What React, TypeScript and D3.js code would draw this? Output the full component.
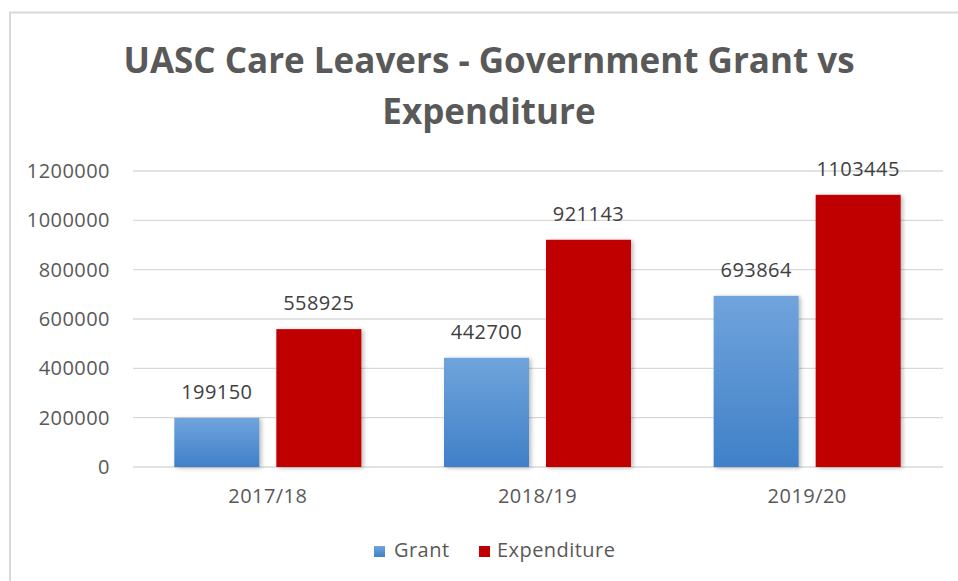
import React from "react";
import * as d3 from "d3";

const categories = ["2017/18", "2018/19", "2019/20"];
const seriesNames = ["Grant", "Expenditure"];
const grantValues = [199150, 442700, 693864];
const expenditureValues = [558925, 921143, 1103445];
const yTicks = [0, 200000, 400000, 600000, 800000, 1000000, 1200000];
const titleLines = ["UASC Care Leavers - Government Grant vs", "Expenditure"];

const W = 958;
const H = 581;
const FONT = "'Open Sans', 'Noto Sans', sans-serif";
const FS = 20;
const LS = 0.45;

export default function App() {
  const x0 = d3.scaleBand<string>().domain(categories).range([133, 942]).padding(0);
  const x1 = d3
    .scaleBand<string>()
    .domain(seriesNames)
    .range([0, x0.bandwidth()])
    .paddingInner(0.1667)
    .paddingOuter(0.405);
  const y = d3.scaleLinear().domain([0, 1200000]).range([467, 171]);

  const data = seriesNames.map((s, si) => ({
    name: s,
    values: si === 0 ? grantValues : expenditureValues,
  }));

  return (
    <svg
      width={W}
      height={H}
      style={{ position: "absolute", left: 0, top: 0, background: "#fff" }}
    >
      <defs>
        <linearGradient id="grantGrad" x1="0" y1="0" x2="0" y2="1">
          <stop offset="0%" stopColor="#70a4dc" />
          <stop offset="100%" stopColor="#4080c8" />
        </linearGradient>
        <filter id="shadow" x="-20%" y="-20%" width="140%" height="140%">
          <feDropShadow dx="2" dy="1" stdDeviation="2" floodColor="#000" floodOpacity="0.28" />
        </filter>
      </defs>
      <rect x={0} y={0} width={W} height={H} fill="#fff" />
      {/* chart frame */}
      <rect x={10} y={12.5} width={W + 20} height={H + 20} fill="#fff" stroke="#d9d9d9" strokeWidth={2} />

      {/* title */}
      {titleLines.map((t, i) => (
        <text
          key={i}
          x={489}
          y={73 + i * 51}
          textAnchor="middle"
          fontFamily={FONT}
          fontWeight={700}
          fontSize={35}
          fill="#595959"
        >
          {t}
        </text>
      ))}

      {/* gridlines */}
      {yTicks.map((t) => (
        <line key={t} x1={133} x2={943} y1={y(t)} y2={y(t)} stroke="#d9d9d9" strokeWidth={1.3} />
      ))}
      {/* y tick labels */}
      {yTicks.map((t) => (
        <text
          key={"l" + t}
          x={110}
          y={y(t) + 7}
          textAnchor="end"
          fontFamily={FONT}
          fontSize={FS}
          letterSpacing={LS}
          fill="#595959"
        >
          {t}
        </text>
      ))}

      {/* bars */}
      {categories.map((c, ci) => (
        <g key={c} transform={`translate(${x0(c)},0)`}>
          {data.map((s) => {
            const v = s.values[ci];
            const bx = x1(s.name)!;
            return (
              <g key={s.name}>
                <rect
                  x={bx}
                  y={y(v)}
                  width={x1.bandwidth()}
                  height={y(0) - y(v)}
                  fill={s.name === "Grant" ? "url(#grantGrad)" : "#c00000"}
                  filter="url(#shadow)"
                />
                <text
                  x={bx + x1.bandwidth() / 2}
                  y={y(v) - 19}
                  textAnchor="middle"
                  fontFamily={FONT}
                  fontSize={FS}
                  letterSpacing={LS}
                  fill="#404040"
                >
                  {v}
                </text>
              </g>
            );
          })}
        </g>
      ))}

      {/* x labels */}
      {categories.map((c) => (
        <text
          key={"x" + c}
          x={x0(c)! + x0.bandwidth() / 2}
          y={503}
          textAnchor="middle"
          fontFamily={FONT}
          fontSize={FS}
          letterSpacing={LS}
          fill="#595959"
        >
          {c}
        </text>
      ))}

      {/* legend */}
      <g>
        <rect x={374} y={546} width={11} height={11} fill="url(#grantGrad)" />
        <text x={394} y={557} fontFamily={FONT} fontSize={FS} letterSpacing={LS} fill="#595959">
          Grant
        </text>
        <rect x={479} y={546} width={11} height={11} fill="#c00000" />
        <text x={497} y={557} fontFamily={FONT} fontSize={FS} letterSpacing={LS} fill="#595959">
          Expenditure
        </text>
      </g>
    </svg>
  );
}
